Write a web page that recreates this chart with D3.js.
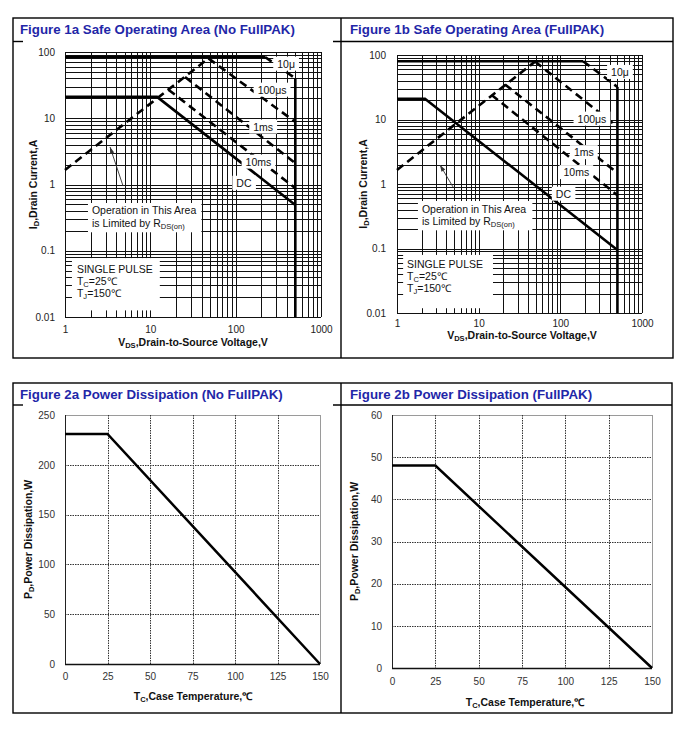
<!DOCTYPE html>
<html>
<head>
<meta charset="utf-8">
<script src="https://cdn.jsdelivr.net/npm/d3@7/dist/d3.min.js"></script>
<style>
  body { margin: 0; background: #fff; }
  svg text { font-family: "Liberation Sans", Arial, Helvetica, sans-serif; }
</style>
</head>
<body>
<svg id="page" width="679" height="731"></svg>
<script>
// axis ticks
const vdsTicks = [1, 10, 100, 1000];
const idTicks = [0.01, 0.1, 1, 10, 100];
const tcTicks = [0, 25, 50, 75, 100, 125, 150];
const pdTicksA = [0, 50, 100, 150, 200, 250];
const pdTicksB = [0, 10, 20, 30, 40, 50, 60];

// Figure 1a - SOA, no FullPAK   [V, A]
const soaA_pulse = [[1, 84], [221, 84]];
const soaA_10us = [[221, 84], [500, 40]];
const soaA_rds = [[1, 1.66], [48, 80]];
const soaA_100us = [[48, 80], [500, 8.8]];
const soaA_1ms = [[25.5, 42], [500, 2.1]];
const soaA_10ms = [[16.3, 27], [500, 0.88]];
const soaA_dc = [[1, 21], [12, 21], [500, 0.49]];
const soaA_vmax = [[500, 40], [500, 0.01]];

// Figure 1b - SOA, FullPAK
const soaB_pulse = [[1, 80], [190, 80]];
const soaB_10us = [[190, 80], [500, 32]];
const soaB_rds = [[1, 1.65], [49, 79]];
const soaB_100us = [[49, 79], [500, 7.7]];
const soaB_1ms = [[21, 35], [500, 1.48]];
const soaB_10ms = [[14.4, 24], [500, 0.67]];
const soaB_dc = [[1, 21], [2.2, 21], [500, 0.095]];
const soaB_vmax = [[500, 32], [500, 0.01]];

// curve labels and where they sit (V, A)
const curveNames = ["10μ", "100μs", "1ms", "10ms", "DC"];
const curveLabelAtA = [[390, 66], [267, 26.7], [210, 7.4], [185, 2.19], [125, 1.05]];
const curveLabelAtB = [[537, 54], [244, 10.2], [194, 3.08], [157, 1.51], [109, 0.7]];

// arrow tail -> tip (V, A)
const arrowA = [[4.79, 0.95], [3.37, 3.68]];
const arrowB = [[4.85, 0.9], [3.36, 1.97]];

// Figure 2 - power derating   [degC, W]
const tcPoints = [0, 25, 150];
const pdA = [231, 231, 0];
const pdB = [48, 48, 0];

const page = d3.select("#page");
page.append("rect").attr("width", 679).attr("height", 731).attr("fill", "#fff");

// text with subscripts: parts = [[str, isSub], ...]
function richText(sel, parts, size) {
  let shifted = false;
  parts.forEach(([s, sub]) => {
    const t = sel.append("tspan").text(s);
    if (sub) {
      t.attr("font-size", size * 0.72);
      if (!shifted) t.attr("dy", size * 0.22);
      shifted = true;
    } else {
      if (shifted) t.attr("dy", -size * 0.22);
      shifted = false;
    }
  });
}

function title(txt, x, y) {
  page.append("text").attr("x", x).attr("y", y)
    .attr("font-size", 13.3).attr("font-weight", "bold").attr("fill", "#1f27a8")
    .text(txt);
}

function axisTitles(g, cfg, xParts, yParts) {
  const xt = g.append("text").attr("x", cfg.xTitle[0]).attr("y", cfg.xTitle[1])
    .attr("text-anchor", "middle").attr("font-weight", "bold")
    .attr("font-size", 10.5).attr("fill", "#111");
  richText(xt, xParts, 10.5);
  const yt = g.append("text")
    .attr("transform", `translate(${cfg.yTitle[0]},${cfg.yTitle[1]}) rotate(-90)`)
    .attr("text-anchor", "middle").attr("font-weight", "bold")
    .attr("font-size", 10.5).attr("fill", "#111");
  richText(yt, yParts, 10.5);
}

function noteBox(g, lines, x0, y0, gap, pad) {
  const grp = g.append("g");
  const bg = grp.append("rect").attr("fill", "#fff");
  const t = grp.append("text").attr("font-size", 10.5).attr("fill", "#111");
  lines.forEach((parts, i) => {
    const ln = t.append("tspan").attr("x", x0).attr("y", y0 + i * gap);
    richText(ln, parts, 10.5);
  });
  const b = t.node().getBBox();
  bg.attr("x", b.x - pad[0]).attr("y", b.y - pad[2])
    .attr("width", b.width + pad[0] + pad[1]).attr("height", b.height + pad[2] + pad[3]);
}

function drawSOA(cfg) {
  const g = page.append("g");
  const x = d3.scaleLog().domain([1, 1000]).range([cfg.left, cfg.right]);
  const y = d3.scaleLog().domain([0.01, 100]).range([cfg.bottom, cfg.top]);
  const px = v => Math.round(x(v)) + 0.5;
  const py = v => Math.round(y(v)) + 0.5;

  const grid = g.append("g").attr("stroke", "#111").attr("stroke-width", 1);
  grid.selectAll("line.vx").data(x.ticks()).join("line").attr("class", "vx")
    .attr("x1", px).attr("x2", px).attr("y1", cfg.top).attr("y2", cfg.bottom);
  grid.selectAll("line.hy").data(y.ticks()).join("line").attr("class", "hy")
    .attr("y1", py).attr("y2", py).attr("x1", cfg.left).attr("x2", cfg.right);

  const line = d3.line().x(d => x(d[0])).y(d => y(d[1]));
  g.selectAll("path.curve").data(cfg.series).join("path").attr("class", "curve")
    .attr("d", s => line(s.pts))
    .attr("fill", "none").attr("stroke", "#000").attr("stroke-width", 2.6)
    .attr("stroke-dasharray", s => s.dash ? "8,5" : null);

  // boxed notes
  noteBox(g, [[["Operation in This Area"]], [["is Limited by R"], ["DS(on)", 1]]],
    x(cfg.note.at[0]), y(cfg.note.at[1]), cfg.note.gap, cfg.note.pad);
  noteBox(g, [[["SINGLE PULSE"]], [["T"], ["C", 1], ["=25℃"]], [["T"], ["J", 1], ["=150℃"]]],
    x(cfg.cond.at[0]), y(cfg.cond.at[1]), cfg.cond.gap, cfg.cond.pad);

  // arrow
  const [tail, tip] = cfg.arrow;
  const x1 = x(tail[0]), y1 = y(tail[1]), x2 = x(tip[0]), y2 = y(tip[1]);
  const ang = Math.atan2(y2 - y1, x2 - x1);
  g.append("line").attr("x1", x1).attr("y1", y1).attr("x2", x2).attr("y2", y2)
    .attr("stroke", "#333").attr("stroke-width", 0.9);
  const hl = 7, ha = 0.32;
  g.append("polygon").attr("fill", "#333").attr("points", [
    [x2, y2],
    [x2 - hl * Math.cos(ang - ha), y2 - hl * Math.sin(ang - ha)],
    [x2 - hl * Math.cos(ang + ha), y2 - hl * Math.sin(ang + ha)]
  ].map(p => p.join(",")).join(" "));

  // curve labels
  cfg.labelAt.forEach((p, i) => {
    const t = g.append("text").attr("x", x(p[0])).attr("y", y(p[1])).attr("dy", "0.35em")
      .attr("text-anchor", "middle").attr("font-size", 10.5).attr("fill", "#111")
      .text(curveNames[i]);
    const b = t.node().getBBox();
    g.insert("rect", () => t.node()).attr("fill", "#fff")
      .attr("x", b.x - 4).attr("y", b.y - 1).attr("width", b.width + 8).attr("height", b.height + 2);
  });

  const ax = g.append("g").attr("transform", `translate(0,${cfg.bottom})`)
    .call(d3.axisBottom(x).tickValues(vdsTicks).tickSize(0).tickPadding(cfg.xPad)
      .tickFormat(d3.format("~g")));
  ax.select(".domain").remove();
  ax.attr("font-size", 10).selectAll("text").attr("fill", "#222");

  const ay = g.append("g").attr("transform", `translate(${cfg.left},0)`)
    .call(d3.axisLeft(y).tickValues(idTicks).tickSize(0).tickPadding(cfg.yPad)
      .tickFormat(d3.format("~g")));
  ay.select(".domain").remove();
  ay.attr("font-size", 10).selectAll("text").attr("fill", "#222");

  axisTitles(g, cfg, [["V"], ["DS", 1], [",Drain-to-Source Voltage,V"]],
    [["I"], ["D", 1], [",Drain Current,A"]]);
}

function drawPower(cfg) {
  const g = page.append("g");
  const x = d3.scaleLinear().domain([0, 150]).range([cfg.left, cfg.right]);
  const y = d3.scaleLinear().domain([0, cfg.yTicks[cfg.yTicks.length - 1]]).range([cfg.bottom, cfg.top]);
  const px = v => Math.round(x(v)) + 0.5;
  const py = v => Math.round(y(v)) + 0.5;

  // frame top/right in grey
  g.append("line").attr("x1", cfg.left).attr("x2", cfg.right).attr("y1", py(y.domain()[1])).attr("y2", py(y.domain()[1]))
    .attr("stroke", "#9a9a9a");
  g.append("line").attr("x1", px(150)).attr("x2", px(150)).attr("y1", cfg.top).attr("y2", cfg.bottom)
    .attr("stroke", "#9a9a9a");

  const grid = g.append("g").attr("stroke", "#333").attr("stroke-width", 1).attr("stroke-dasharray", "1.5,1");
  grid.selectAll("line.vx").data(tcTicks.slice(1, -1)).join("line").attr("class", "vx")
    .attr("x1", px).attr("x2", px).attr("y1", cfg.top).attr("y2", cfg.bottom);
  grid.selectAll("line.hy").data(cfg.yTicks.slice(1, -1)).join("line").attr("class", "hy")
    .attr("y1", py).attr("y2", py).attr("x1", cfg.left).attr("x2", cfg.right);

  // left and bottom axis lines
  g.append("line").attr("x1", px(0)).attr("x2", px(0)).attr("y1", cfg.top).attr("y2", cfg.bottom)
    .attr("stroke", "#222");
  g.append("line").attr("x1", cfg.left).attr("x2", cfg.right).attr("y1", cfg.bottom + 0.5).attr("y2", cfg.bottom + 0.5)
    .attr("stroke", "#111").attr("stroke-width", 1.4);

  const line = d3.line().x((d, i) => x(tcPoints[i])).y(d => y(d));
  g.append("path").datum(cfg.vals).attr("d", line)
    .attr("fill", "none").attr("stroke", "#000").attr("stroke-width", 2.5);

  const ax = g.append("g").attr("transform", `translate(0,${cfg.bottom})`)
    .call(d3.axisBottom(x).tickValues(tcTicks).tickSize(0).tickPadding(cfg.xPad).tickFormat(d3.format("d")));
  ax.select(".domain").remove();
  ax.attr("font-size", 10).selectAll("text").attr("fill", "#333");

  const ay = g.append("g").attr("transform", `translate(${cfg.left},0)`)
    .call(d3.axisLeft(y).tickValues(cfg.yTicks).tickSize(0).tickPadding(cfg.yPad).tickFormat(d3.format("d")));
  ay.select(".domain").remove();
  ay.attr("font-size", 10).selectAll("text").attr("fill", "#333");

  axisTitles(g, cfg, [["T"], ["C", 1], [",Case Temperature,℃"]],
    [["P"], ["D", 1], [",Power Dissipation,W"]]);
}

const seriesA = [soaA_pulse, soaA_10us, soaA_rds, soaA_100us, soaA_1ms, soaA_10ms, soaA_dc, soaA_vmax]
  .map((pts, i) => ({ pts, dash: [1, 2, 3, 4, 5].includes(i) }));
const seriesB = [soaB_pulse, soaB_10us, soaB_rds, soaB_100us, soaB_1ms, soaB_10ms, soaB_dc, soaB_vmax]
  .map((pts, i) => ({ pts, dash: [1, 2, 3, 4, 5].includes(i) }));

drawSOA({
  left: 65, right: 321, top: 52, bottom: 317, xPad: 9, yPad: 10,
  xTitle: [193, 346], yTitle: [37, 184.5],
  series: seriesA, labelAt: curveLabelAtA, arrow: arrowA,
  note: { at: [2.07, 0.359], gap: 13, pad: [4, 5, 1, 1] },
  cond: { at: [1.38, 0.046], gap: 12, pad: [5, 7, 5, 9] }
});
drawSOA({
  left: 397, right: 642, top: 55, bottom: 313, xPad: 7, yPad: 11,
  xTitle: [522, 339], yTitle: [367, 184],
  series: seriesB, labelAt: curveLabelAtB, arrow: arrowB,
  note: { at: [2.02, 0.355], gap: 12, pad: [4, 6, 2, 1] },
  cond: { at: [1.33, 0.05], gap: 12, pad: [4, 10, 3, 12] }
});
drawPower({
  left: 65, right: 320, top: 415, bottom: 664, yTicks: pdTicksA, vals: pdA,
  xPad: 9, yPad: 10, xTitle: [193, 700], yTitle: [32, 539.5]
});
drawPower({
  left: 392, right: 652, top: 415, bottom: 668, yTicks: pdTicksB, vals: pdB,
  xPad: 10, yPad: 10, xTitle: [525, 706], yTitle: [358, 541.5]
});

title("Figure 1a Safe Operating Area (No FullPAK)", 20, 34);
title("Figure 1b Safe Operating Area (FullPAK)", 350, 34);
title("Figure 2a Power Dissipation (No FullPAK)", 20, 399);
title("Figure 2b Power Dissipation (FullPAK)", 350, 399);

// table borders
const border = page.append("g").attr("stroke", "#000").attr("stroke-width", 1.4).attr("fill", "none");
border.append("rect").attr("x", 13).attr("y", 18).attr("width", 660).attr("height", 340);
border.append("line").attr("x1", 341).attr("x2", 341).attr("y1", 18).attr("y2", 358);
border.append("line").attr("x1", 13).attr("x2", 23).attr("y1", 41.5).attr("y2", 41.5);
border.append("line").attr("x1", 333).attr("x2", 673).attr("y1", 41.5).attr("y2", 41.5);
border.append("rect").attr("x", 13).attr("y", 383).attr("width", 659).attr("height", 330);
border.append("line").attr("x1", 341).attr("x2", 341).attr("y1", 383).attr("y2", 713);
border.append("line").attr("x1", 13).attr("x2", 23).attr("y1", 405).attr("y2", 405);
border.append("line").attr("x1", 333).attr("x2", 672).attr("y1", 405).attr("y2", 405);
</script>
</body>
</html>
